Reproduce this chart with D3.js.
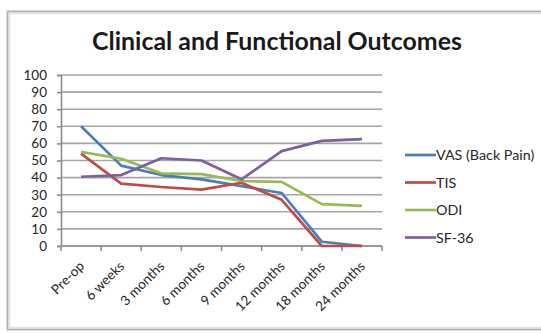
<!DOCTYPE html>
<html>
<head>
<meta charset="utf-8">
<script src="https://cdn.jsdelivr.net/npm/d3@7"></script>
<style>
  html, body { margin: 0; padding: 0; background: #fff; }
  svg { display: block; }
  text { font-family: Lato, "Open Sans", sans-serif; }
</style>
</head>
<body>
<svg id="chart" width="541" height="333"></svg>
<script>
// Follow-up time points
const categories = ["Pre-op", "6 weeks", "3 months", "6 months", "9 months", "12 months", "18 months", "24 months"];

// Outcome scores at each time point
const vas  = [70, 47, 41.5, 39, 35, 31, 2.5, 0];
const tis  = [54, 36.5, 34.5, 33, 37, 27, 0, 0];
const odi  = [55, 51, 42.5, 42, 38, 37.5, 24.5, 23.5];
const sf36 = [40.5, 41.5, 51.3, 50, 39, 55.5, 61.5, 62.5];

const seriesNames = ["VAS (Back Pain)", "TIS", "ODI", "SF-36"];
const seriesColors = ["#4a7ebb", "#be4b48", "#98b954", "#7d60a0"];
const yTicks = [0, 10, 20, 30, 40, 50, 60, 70, 80, 90, 100];

const series = [vas, tis, odi, sf36].map((values, i) => ({
  name: seriesNames[i], color: seriesColors[i], values
}));

const svg = d3.select("#chart");

// chart area frame
svg.append("rect")
  .attr("x", 7.5).attr("y", 11.5)
  .attr("width", 560).attr("height", 318)
  .attr("fill", "#fff")
  .attr("stroke", "#b4b4b4").attr("stroke-width", 2);
svg.append("rect")
  .attr("x", 9.5).attr("y", 13.5)
  .attr("width", 560).attr("height", 314)
  .attr("fill", "none")
  .attr("stroke", "#e4e4e4").attr("stroke-width", 1.5);

// title, scaled to span its slot
const title = svg.append("text")
  .attr("x", 277).attr("y", 50)
  .attr("text-anchor", "middle")
  .attr("font-weight", 700)
  .attr("font-size", 24)
  .attr("fill", "#1a1a1a")
  .text("Clinical and Functional Outcomes");
const tw = title.node().getComputedTextLength();
title.attr("font-size", 24 * 370 / tw);

const x = d3.scaleBand().domain(categories).range([61, 382]);
const y = d3.scaleLinear().domain([0, 100]).range([246, 75]);

// horizontal gridlines
svg.append("g")
  .selectAll("line")
  .data(yTicks)
  .join("line")
  .attr("x1", 61).attr("x2", 382)
  .attr("y1", d => y(d)).attr("y2", d => y(d))
  .attr("stroke", "#a6a6a6").attr("stroke-width", 1.6);

// y axis
const yAxis = svg.append("g")
  .attr("transform", "translate(61,0)")
  .call(d3.axisLeft(y).tickValues(yTicks).tickSize(4).tickPadding(10));
yAxis.select(".domain").attr("stroke", "#8c8c8c").attr("stroke-width", 1.6);
yAxis.selectAll(".tick line").attr("stroke", "#8c8c8c").attr("stroke-width", 1.6);
yAxis.selectAll(".tick text")
  .attr("font-family", "Lato, sans-serif")
  .attr("font-size", 13.5)
  .attr("fill", "#262626");

// x axis: baseline with ticks between categories
const xAxisG = svg.append("g");
xAxisG.append("line")
  .attr("x1", 61).attr("x2", 382)
  .attr("y1", y(0)).attr("y2", y(0))
  .attr("stroke", "#8c8c8c").attr("stroke-width", 1.6);
const boundaries = categories.map(c => x(c)).concat([x.range()[1]]);
xAxisG.selectAll("line.tk")
  .data(boundaries)
  .join("line")
  .attr("class", "tk")
  .attr("x1", d => d).attr("x2", d => d)
  .attr("y1", y(0)).attr("y2", y(0) + 5)
  .attr("stroke", "#8c8c8c").attr("stroke-width", 1.6);
xAxisG.selectAll("text")
  .data(categories)
  .join("text")
  .attr("transform", d => `translate(${x(d) + x.bandwidth() / 2 + 4},${y(0) + 21}) rotate(-45)`)
  .attr("text-anchor", "end")
  .attr("font-size", 13.5)
  .attr("fill", "#262626")
  .text(d => d);

// series lines
const line = d3.line()
  .x((d, i) => x(categories[i]) + x.bandwidth() / 2)
  .y(d => y(d));

svg.append("g")
  .selectAll("path")
  .data(series)
  .join("path")
  .attr("d", d => line(d.values))
  .attr("fill", "none")
  .attr("stroke", d => d.color)
  .attr("stroke-width", 2.7)
  .attr("stroke-linejoin", "round");

// legend
const legend = svg.append("g")
  .selectAll("g")
  .data(series)
  .join("g")
  .attr("transform", (d, i) => `translate(405,${155 + i * 27.5})`);
legend.append("line")
  .attr("x1", 0).attr("x2", 31)
  .attr("stroke", d => d.color).attr("stroke-width", 2.7);
legend.append("text")
  .attr("x", 31).attr("y", 5)
  .attr("font-size", 14.3)
  .attr("fill", "#262626")
  .text(d => d.name);
</script>
</body>
</html>
